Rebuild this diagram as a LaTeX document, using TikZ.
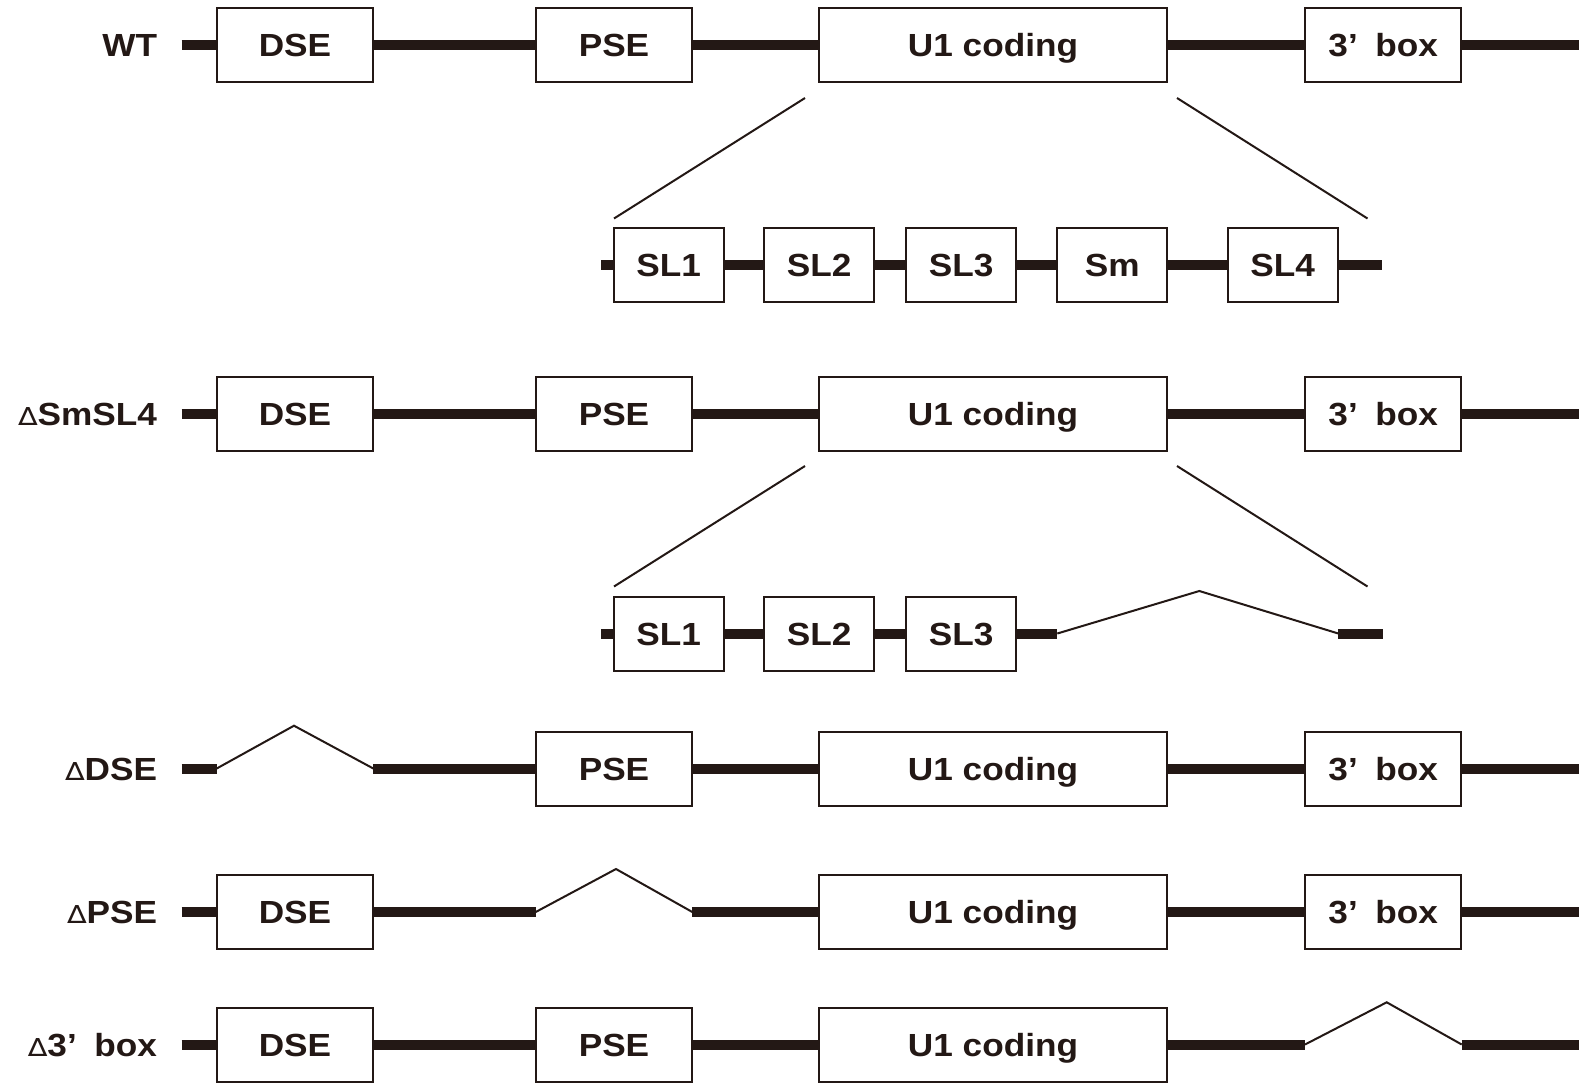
\documentclass[tikz,border=0pt]{standalone}
\usepackage{fontspec}
\setmainfont{Liberation Sans}[FakeStretch=1.1]
\newfontfamily\trifont{DejaVu Sans}[FakeStretch=1.15]
\definecolor{ink}{RGB}{35,24,21}
\newcommand\bxfont{\fontsize{16pt}{19pt}\selectfont\bfseries}
\newcommand\dlt{{\trifont\mdseries\fontsize{12.5pt}{14pt}\selectfont ∆}}
\newcommand\threebox{3’\hspace{0.55em}box}

\begin{document}
\begin{tikzpicture}[
  x=0.5pt, y=-0.5pt,
  every node/.style={inner sep=0pt, outer sep=0pt},
  box/.style={draw=ink, line width=1pt, fill=white, minimum height=37pt,
              text height=11.9pt, text depth=0pt, font=\bxfont, text=ink},
  wide/.style={box, minimum width=78pt},
  coding/.style={box, minimum width=174pt},
  slbox/.style={box, minimum width=55pt},
  lab/.style={anchor=east, font=\bxfont, text=ink, text height=11.9pt, text depth=0pt},
  bb/.style={draw=ink, line width=5pt},
  thin/.style={draw=ink, line width=1pt},
]
\useasboundingbox (0,0) rectangle (1579,1082);

% ---------- WT ----------
\node[lab] (lwt) at (157,45) {WT};
\coordinate (s1) at (181.5,45);
\coordinate (e1) at (1579,45);
\node[wide]   (dse1) at (295,45)     {DSE};
\node[wide]   (pse1) at (614,45)     {PSE};
\node[coding] (u11)  at (993,45)     {U1 coding};
\node[wide]   (tb1)  at (1383.25,45) {\threebox};
\draw[bb] (s1) -- (dse1.west) (dse1.east) -- (pse1.west) (pse1.east) -- (u11.west)
          (u11.east) -- (tb1.west) (tb1.east) -- (e1);

% expansion of the U1 coding region
\coordinate (d1a) at (805,98);    \coordinate (d1b) at (614,218.5);
\coordinate (d1c) at (1177,98);   \coordinate (d1d) at (1367.5,218.5);
\draw[thin] (d1a) -- (d1b) (d1c) -- (d1d);

\coordinate (ss1) at (601,265);
\coordinate (se1) at (1382,265);
\node[slbox] (sla1) at (668.75,265)  {SL1};
\node[slbox] (slb1) at (819.25,265)  {SL2};
\node[slbox] (slc1) at (961.25,265)  {SL3};
\node[slbox] (sm1)  at (1112.25,265) {Sm};
\node[slbox] (sld1) at (1282.75,265) {SL4};
\draw[bb] (ss1) -- (sla1.west) (sla1.east) -- (slb1.west) (slb1.east) -- (slc1.west)
          (slc1.east) -- (sm1.west) (sm1.east) -- (sld1.west) (sld1.east) -- (se1);

% ---------- delta SmSL4 ----------
\node[lab] (lsm) at (157,413.5) {\dlt SmSL4};
\coordinate (s2) at (181.5,413.5);
\coordinate (e2) at (1579,413.5);
\node[wide]   (dse2) at (295,413.5)     {DSE};
\node[wide]   (pse2) at (614,413.5)     {PSE};
\node[coding] (u12)  at (993,413.5)     {U1 coding};
\node[wide]   (tb2)  at (1383.25,413.5) {\threebox};
\draw[bb] (s2) -- (dse2.west) (dse2.east) -- (pse2.west) (pse2.east) -- (u12.west)
          (u12.east) -- (tb2.west) (tb2.east) -- (e2);

\coordinate (d2a) at (805,466);   \coordinate (d2b) at (614,586.5);
\coordinate (d2c) at (1177,466);  \coordinate (d2d) at (1367.5,586.5);
\draw[thin] (d2a) -- (d2b) (d2c) -- (d2d);

\coordinate (ss2) at (601,633.5);
\node[slbox] (sla2) at (668.75,633.5) {SL1};
\node[slbox] (slb2) at (819.25,633.5) {SL2};
\node[slbox] (slc2) at (961.25,633.5) {SL3};
\coordinate (g2a) at (1057.3,633.5);
\coordinate (g2p) at (1199.3,591);
\coordinate (g2b) at (1338.3,633.5);
\coordinate (se2) at (1382.7,633.5);
\draw[bb] (ss2) -- (sla2.west) (sla2.east) -- (slb2.west) (slb2.east) -- (slc2.west)
          (slc2.east) -- (g2a) (g2b) -- (se2);
\draw[thin] (g2a) -- (g2p) -- (g2b);

% ---------- delta DSE ----------
\node[lab] (ldse) at (157,768.5) {\dlt DSE};
\coordinate (s3) at (181.5,768.5);
\coordinate (g3a) at (216.7,768.5);
\coordinate (g3p) at (294,725.7);
\coordinate (g3b) at (373.3,768.5);
\coordinate (e3) at (1579,768.5);
\node[wide]   (pse3) at (614,768.5)     {PSE};
\node[coding] (u13)  at (993,768.5)     {U1 coding};
\node[wide]   (tb3)  at (1383.25,768.5) {\threebox};
\draw[bb] (s3) -- (g3a) (g3b) -- (pse3.west) (pse3.east) -- (u13.west)
          (u13.east) -- (tb3.west) (tb3.east) -- (e3);
\draw[thin] (g3a) -- (g3p) -- (g3b);

% ---------- delta PSE ----------
\node[lab] (lpse) at (157,912) {\dlt PSE};
\coordinate (s4) at (181.5,912);
\coordinate (g4a) at (535.7,912);
\coordinate (g4p) at (616,869);
\coordinate (g4b) at (692.3,912);
\coordinate (e4) at (1579,912);
\node[wide]   (dse4) at (295,912)     {DSE};
\node[coding] (u14)  at (993,912)     {U1 coding};
\node[wide]   (tb4)  at (1383.25,912) {\threebox};
\draw[bb] (s4) -- (dse4.west) (dse4.east) -- (g4a) (g4b) -- (u14.west)
          (u14.east) -- (tb4.west) (tb4.east) -- (e4);
\draw[thin] (g4a) -- (g4p) -- (g4b);

% ---------- delta 3' box ----------
\node[lab] (ltb) at (157,1044.5) {\dlt\threebox};
\coordinate (s5) at (181.5,1044.5);
\coordinate (g5a) at (1305,1044.5);
\coordinate (g5p) at (1386.7,1002.3);
\coordinate (g5b) at (1461.7,1044.5);
\coordinate (e5) at (1579,1044.5);
\node[wide]   (dse5) at (295,1044.5) {DSE};
\node[wide]   (pse5) at (614,1044.5) {PSE};
\node[coding] (u15)  at (993,1044.5) {U1 coding};
\draw[bb] (s5) -- (dse5.west) (dse5.east) -- (pse5.west) (pse5.east) -- (u15.west)
          (u15.east) -- (g5a) (g5b) -- (e5);
\draw[thin] (g5a) -- (g5p) -- (g5b);
\end{tikzpicture}
\end{document}
